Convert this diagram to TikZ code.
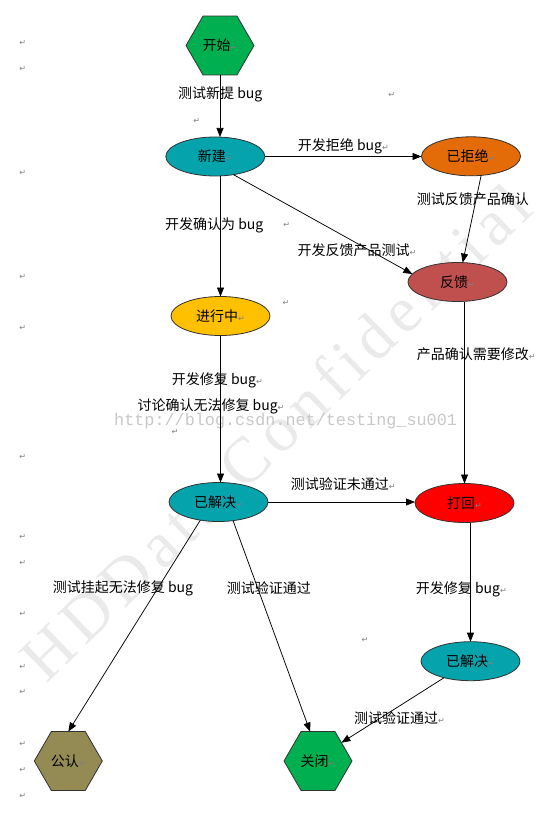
\documentclass[tikz,border=0pt]{standalone}
\usepackage{fontspec}
\setmainfont{Noto Sans CJK SC}
\newfontfamily\dvfont{DejaVu Sans}
\newfontfamily\urlfont{Liberation Mono}
\newfontfamily\wmfont[LetterSpace=11]{Liberation Serif}
\usetikzlibrary{shapes.geometric,arrows.meta,calc}
\definecolor{hexgreen}{RGB}{0,176,80}
\definecolor{tealfill}{RGB}{5,164,173}
\definecolor{orangefill}{RGB}{227,108,9}
\definecolor{brickfill}{RGB}{192,80,77}
\definecolor{amberfill}{RGB}{255,192,0}
\definecolor{redfill}{RGB}{255,0,0}
\definecolor{olivefill}{RGB}{148,138,84}
\definecolor{edgegray}{RGB}{50,50,50}
\definecolor{pmgray}{RGB}{128,128,128}
\definecolor{urlgray}{RGB}{200,200,200}
\definecolor{wmgray}{RGB}{234,234,234}
\newcommand\parmark{{\dvfont\fontsize{8}{8}\selectfont\textcolor{pmgray}{↵}}}
\begin{document}
\begin{tikzpicture}[x=1pt,y=-1pt,
  ell/.style={ellipse, draw=edgegray, line width=0.8pt, minimum width=99pt, minimum height=39pt, inner sep=0pt, outer sep=0pt, font=\fontsize{14}{16}\selectfont},
  hexnode/.style={regular polygon, regular polygon sides=6, minimum size=68pt, draw=edgegray, line width=0.8pt, inner sep=0pt, outer sep=0pt, font=\fontsize{14}{16}\selectfont},
  lbl/.style={anchor=west, inner sep=0pt, font=\fontsize{14}{16}\selectfont},
  pmk/.style={inner sep=0pt, text=pmgray, font=\dvfont\fontsize{8}{8}\selectfont},
  conn/.style={draw=black, line width=0.75pt, -{Triangle[length=9pt,width=7pt]}}]
\useasboundingbox[fill=white] (0,0) rectangle (549,818);
% watermarks
\node[rotate=44, text=wmgray, inner sep=0pt, font=\wmfont\fontsize{65}{65}\selectfont] (wm) at (275,432) {HDData Confidential};
\node[anchor=west, inner sep=0pt, text=urlgray, font=\urlfont\fontsize{16.8}{18}\selectfont] (url) at (114,421) {http://blog.csdn.net/testing\_su001};
% nodes
\node[hexnode, fill=hexgreen] (kaishi) at (220,45.5) {开始\parmark};
\node[ell, fill=tealfill] (xinjian) at (215.3,156.5) {新建\parmark};
\node[ell, fill=orangefill] (yijujue) at (471,156.3) {已拒绝\parmark};
\node[ell, fill=brickfill] (fankui) at (457.5,282) {反馈\parmark};
\node[ell, fill=amberfill] (jinxing) at (220.5,316) {进行中\parmark};
\node[ell, fill=tealfill] (yijiejue) at (218.5,502) {已解决\parmark};
\node[ell, fill=redfill] (dahui) at (464.5,503) {打回\parmark};
\node[ell, fill=tealfill] (yijiejueB) at (470.5,661.2) {已解决\parmark};
\node[hexnode, fill=hexgreen] (guanbi) at (318,761) {关闭\parmark};
\node[hexnode, fill=olivefill] (gongren) at (68.3,761) {公认\parmark};
% connectors
\draw[conn] (kaishi.south) -- (kaishi.south |- xinjian.north);
\draw[conn] (xinjian.east) -- (xinjian.east -| yijujue.west);
\draw[conn] (xinjian.-45) -- (fankui.170);
\draw[conn] (yijujue.-62) -- (fankui.75);
\draw[conn] (jinxing.north |- xinjian.south) -- (jinxing.north);
\draw[conn] (jinxing.south) -- (jinxing.south |- yijiejue.north);
\draw[conn] (dahui.north |- fankui.south) -- (dahui.north);
\draw[conn] (yijiejue.east) -- (yijiejue.east -| dahui.west);
\draw[conn] (yijiejueB.north |- dahui.south) -- (yijiejueB.north);
\draw[conn] (yijiejue.-135) -- (gongren.north);
\draw[conn] (yijiejue.-52) -- (guanbi.105);
\draw[conn] (yijiejueB.-148) -- (guanbi.38);
% labels
\node[lbl] (l1) at (178,94.3) {测试新提 bug};
\node[lbl] (l2) at (297.7,146.7) {开发拒绝 bug\parmark};
\node[lbl] (l3) at (416.7,199.3) {测试反馈产品确认};
\node[lbl] (l4) at (297.3,250.7) {开发反馈产品测试\parmark};
\node[lbl] (l5) at (165,225) {开发确认为 bug};
\node[lbl] (l6) at (171.7,380) {开发修复 bug\parmark};
\node[lbl] (l7) at (137.3,406) {讨论确认无法修复 bug\parmark};
\node[lbl] (l8) at (416.7,354.3) {产品确认需要修改\parmark};
\node[lbl] (l9) at (290.7,484) {测试验证未通过\parmark};
\node[lbl] (l10) at (52.7,588.3) {测试挂起无法修复 bug};
\node[lbl] (l11) at (226.7,588) {测试验证通过};
\node[lbl] (l12) at (415.7,589) {开发修复 bug\parmark};
\node[lbl] (l13) at (354,718.3) {测试验证通过\parmark};
% paragraph marks
\foreach \yy [count=\i] in {42.7,69,172.7,276.7,328.3,457.3,536.7,562.7,614,666.7,692.3,744,770,796}
  \node[pmk] (pmL\i) at (22.7,\yy) {↵};
\node[pmk] (pm1) at (391.7,95) {↵};
\node[pmk] (pm2) at (196.7,120.7) {↵};
\node[pmk] (pm3) at (286.7,225) {↵};
\node[pmk] (pm4) at (286,302.7) {↵};
\node[pmk] (pm5) at (175,432) {↵};
\node[pmk] (pm6) at (365,640) {↵};
\end{tikzpicture}
\end{document}
